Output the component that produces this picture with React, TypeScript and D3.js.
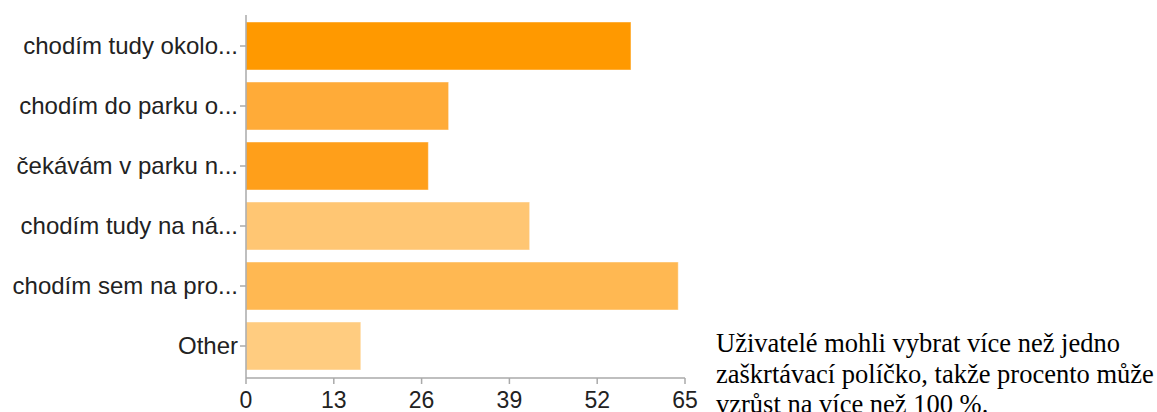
import React from 'react';
import * as d3 from 'd3';

const categories = [
    "chodím tudy okolo...",
    "chodím do parku o...",
    "čekávám v parku n...",
    "chodím tudy na ná...",
    "chodím sem na pro...",
    "Other"
];
const counts = [57, 30, 27, 42, 64, 17];
const barColors = ["#ff9900", "#ffab38", "#ff9f1a", "#ffc673", "#ffb852", "#ffcc80"];
const xTicks = [0, 13, 26, 39, 52, 65];
const noteLines = [
    "Uživatelé mohli vybrat více než jedno",
    "zaškrtávací políčko, takže procento může",
    "vzrůst na více než 100 %."
];

const W = 1157;
const H = 412;

const App = () => {
    const x = d3.scaleLinear().domain([0, 65]).range([246, 685]);
    const y = d3.scaleBand<string>()
        .domain(categories)
        .range([16, 376])
        .paddingInner(0.2)
        .paddingOuter(0.1);
    const axisY = 378;
    const sans = "Liberation Sans, Arial, Helvetica, sans-serif";

    return (
        <svg width={W} height={H} style={{ position: 'absolute', left: 0, top: 0, background: '#fff' }}>
            {/* bars */}
            {categories.map((c, i) => (
                <rect key={c}
                    x={x(0)} y={y(c)} width={x(counts[i]) - x(0)} height={y.bandwidth()}
                    fill={barColors[i]} stroke="#fff" strokeOpacity={0.45} strokeWidth={1} />
            ))}

            {/* y axis */}
            <line x1={x(0)} x2={x(0)} y1={15} y2={axisY} stroke="#aaa" strokeWidth={1.5} />
            {categories.map(c => {
                const cy = (y(c) as number) + y.bandwidth() / 2;
                return (
                    <g key={c}>
                        <line x1={x(0) - 6} x2={x(0)} y1={cy} y2={cy} stroke="#aaa" strokeWidth={1.5} />
                        <text x={238} y={cy + 8} textAnchor="end" fontFamily={sans}
                            fontSize={24} fill="#222">{c}</text>
                    </g>
                );
            })}

            {/* x axis */}
            <line x1={x(0)} x2={x(65)} y1={axisY} y2={axisY} stroke="#aaa" strokeWidth={1.5} />
            {xTicks.map(t => (
                <g key={t}>
                    <line x1={x(t)} x2={x(t)} y1={axisY} y2={axisY + 6} stroke="#aaa" strokeWidth={1.5} />
                    <text x={x(t)} y={408} textAnchor="middle" fontFamily={sans}
                        fontSize={23} fill="#222">{t}</text>
                </g>
            ))}

            {/* footnote */}
            {noteLines.map((l, i) => (
                <text key={i} x={716} y={352 + i * 30.5} fontFamily="Liberation Serif, Times New Roman, serif"
                    fontSize={26.5} fill="#000">{l}</text>
            ))}
        </svg>
    );
};

export default App;
